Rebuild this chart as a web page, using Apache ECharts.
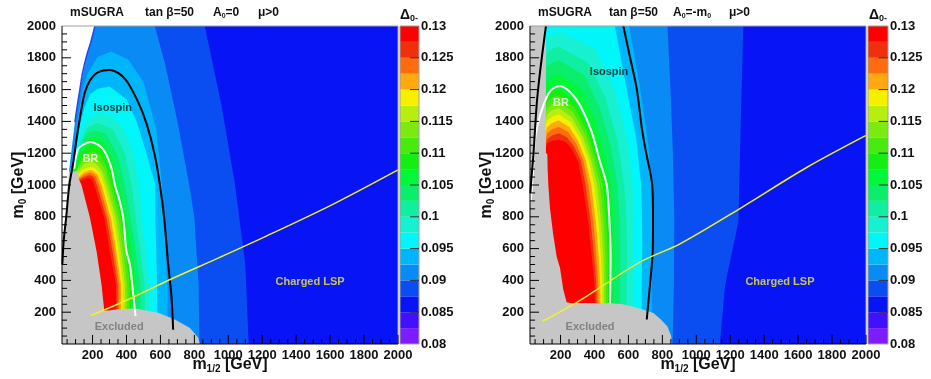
<!DOCTYPE html>
<html><head><meta charset="utf-8">
<script src="https://cdn.jsdelivr.net/npm/echarts@6/dist/echarts.min.js"></script>
<style>html,body{margin:0;padding:0;background:#fff}#c{width:931px;height:379px}</style>
</head><body><div id="c"></div>
<script>
// ---------------- data ----------------
const XMIN = 20, XMAX = 2000, YMIN = 0, YMAX = 2000;
const xTicks = [200,400,600,800,1000,1200,1400,1600,1800,2000];
const xMinor = [50,100,150,250,300,350,450,500,550,650,700,750,850,900,950,1050,1100,1150,1250,1300,1350,1450,1500,1550,1650,1700,1750,1850,1900,1950];
const yTicks = [200,400,600,800,1000,1200,1400,1600,1800];
const yMinor = [50,100,150,250,300,350,450,500,550,650,700,750,850,900,950,1050,1100,1150,1250,1300,1350,1450,1500,1550,1650,1700,1750,1850,1900,1950];
const cbTicks = [0.085,0.09,0.095,0.1,0.105,0.11,0.115,0.12,0.125];
const bandEdges = [0.08,0.0825,0.085,0.0875,0.09,0.0925,0.095,0.0975,0.1,0.1025,0.105,0.1075,0.11,0.1125,0.115,0.1175,0.12,0.1225,0.125,0.1275,0.13];
const palette = ['#7d1cff','#4010ff','#0614f6','#0a4ef2','#0a8af5','#00b6fa','#00f6f8','#18f0d2','#10eea2','#0aee6c','#00f838','#14ee12','#48ea10','#7cea10','#b6ee10','#f6f000','#ffa810','#ff6c10','#f0300c','#ff0000'];
const contourLevels = [0.0875,0.09,0.0925,0.095,0.0975,0.1,0.1025,0.105,0.1075,0.11,0.1125,0.115,0.1175,0.12,0.1225,0.125,0.1275];

// Left panel (A0 = 0): boundary of region with Delta >= level, [m1/2, m0]
const contoursA0 = [
 [[1120,0],[1100,500],[1040,1000],[960,1500],[861,2000],[20,2000],[20,0]],
 [[830,0],[825,373],[800,792],[770,1000],[700,1400],[630,1750],[567,2000],[20,2000],[20,0]],
 [[645,0],[640,373],[630,600],[620,792],[610,1000],[575,1350],[500,1650],[410,1790],[310,1840],[230,1805],[170,1700],[140,1600],[110,1400],[80,1150],[20,900],[20,0]],
 [[585,0],[580,373],[575,600],[570,792],[570,1000],[520,1190],[460,1400],[400,1540],[300,1620],[230,1605],[185,1570],[150,1480],[120,1350],[90,1150],[20,900],[20,0]],
 [[535,0],[532,373],[510,600],[490,792],[475,1000],[440,1200],[380,1360],[300,1440],[240,1455],[180,1420],[140,1340],[105,1200],[20,900],[20,0]],
 [[510,0],[507,373],[480,600],[455,792],[430,1000],[390,1200],[320,1350],[230,1390],[170,1360],[130,1270],[100,1150],[20,900],[20,0]],
 [[482,0],[481,373],[452,600],[425,792],[390,1000],[350,1180],[280,1320],[215,1345],[165,1320],[125,1230],[95,1130],[20,900],[20,0]],
 [[458,0],[457,373],[428,600],[400,792],[355,1000],[320,1160],[260,1280],[205,1302],[160,1280],[120,1200],[95,1100],[20,900],[20,0]],
 [[435,0],[434,373],[407,600],[380,792],[326,1000],[300,1130],[250,1230],[198,1255],[150,1230],[118,1160],[95,1100],[20,900],[20,0]],
 [[420,0],[419,373],[393,600],[367,792],[312,1000],[285,1110],[240,1195],[195,1210],[150,1190],[118,1130],[20,900],[20,0]],
 [[405,0],[405,373],[379,600],[352,792],[298,1000],[270,1100],[230,1165],[192,1178],[150,1160],[118,1110],[20,900],[20,0]],
 [[392,0],[392,373],[365,600],[337,792],[283,1000],[255,1090],[220,1135],[190,1146],[150,1130],[118,1090],[20,900],[20,0]],
 [[380,0],[380,373],[351,600],[322,792],[268,1000],[240,1080],[210,1108],[187,1115],[150,1100],[118,1070],[20,900],[20,0]],
 [[368,0],[368,373],[338,600],[308,792],[254,1000],[230,1065],[205,1088],[185,1094],[150,1080],[118,1050],[20,900],[20,0]],
 [[358,0],[358,373],[327,600],[295,792],[240,1000],[220,1055],[200,1072],[182,1078],[150,1065],[118,1040],[20,900],[20,0]],
 [[348,0],[348,373],[315,600],[282,792],[225,1000],[210,1045],[195,1058],[180,1061],[150,1052],[118,1030],[20,900],[20,0]],
 [[338,0],[338,373],[302,582],[269,792],[210,1000],[200,1030],[185,1042],[170,1044],[150,1038],[118,1020],[20,900],[20,0]]
];
const excludedA0 = [[20,0],[832,0],[823,39],[774,101],[685,154],[587,196],[450,223],[350,218],[293,210],[269,210],[253,373],[224,582],[185,792],[135,1000],[118,1040],[116,1085],[20,1085]];
const blankA0 = [[20,2000],[214,2000],[165,1814],[126,1605],[96,1396],[73,1189],[61,1082],[55,1000],[45,850],[30,700],[20,600]];
const edgeA0 = [[214,2000],[190,1900],[165,1814],[140,1700],[126,1605],[110,1500],[96,1396]];
const brA0 = [[453,175],[440,311],[420,500],[400,582],[381,792],[360,900],[332,1000],[312,1103],[273,1208],[230,1255],[185,1270],[140,1250],[116,1228],[100,1170],[92,1103]];
const isoA0 = [[675,90],[665,300],[646,499],[622,792],[597,1000],[567,1187],[520,1380],[469,1521],[391,1668],[303,1724],[234,1710],[185,1658],[155,1584],[135,1480],[106,1291],[87,1145],[63,999],[45,800],[30,650],[22,499]];
const lspA0 = [[191,179],[400,275],[677,415],[950,545],[1227,680],[1619,880],[2000,1095]];

// Right panel (A0 = -m0)
const contoursAm = [
 [[1139,0],[1170,373],[1248,769],[1262,1400],[1277,2000],[20,2000],[20,0]],
 [[860,0],[868,373],[870,800],[862,1200],[848,1600],[830,2000],[20,2000],[20,0]],
 [[737,0],[737,373],[745,650],[745,800],[738,1000],[712,1300],[670,1600],[605,2000],[20,2000],[20,0]],
 [[678,0],[678,373],[682,600],[680,800],[675,1000],[645,1300],[590,1600],[520,2000],[20,2000],[20,0]],
 [[629,0],[629,373],[632,551],[632,760],[625,1000],[590,1300],[520,1600],[400,1860],[200,1960],[150,1945],[122,1920],[20,1560],[20,0]],
 [[590,0],[590,373],[592,551],[590,760],[575,1000],[535,1280],[465,1550],[360,1770],[190,1870],[150,1855],[122,1830],[20,1470],[20,0]],
 [[550,0],[550,373],[552,551],[550,760],[535,1000],[495,1250],[430,1490],[340,1690],[190,1785],[150,1770],[122,1745],[20,1385],[20,0]],
 [[515,0],[515,373],[518,551],[515,760],[500,1000],[458,1200],[400,1420],[315,1610],[190,1700],[150,1685],[122,1660],[20,1300],[20,0]],
 [[490,0],[490,373],[492,551],[485,760],[466,1000],[422,1175],[370,1350],[288,1520],[190,1605],[150,1590],[122,1565],[20,1205],[20,0]],
 [[479,0],[479,373],[479,551],[470,760],[449,1000],[407,1171],[357,1335],[281,1489],[190,1565],[150,1550],[122,1525],[20,1165],[20,0]],
 [[469,0],[467,373],[465,551],[455,760],[432,1000],[393,1168],[344,1320],[274,1458],[190,1525],[150,1510],[122,1485],[20,1125],[20,0]],
 [[458,0],[456,373],[452,551],[440,760],[415,1000],[378,1164],[331,1304],[266,1426],[190,1485],[150,1470],[122,1445],[20,1085],[20,0]],
 [[447,0],[445,373],[438,551],[424,760],[398,1000],[364,1160],[318,1289],[259,1395],[190,1445],[150,1430],[122,1405],[20,1045],[20,0]],
 [[437,0],[434,373],[425,551],[409,760],[381,1000],[349,1156],[305,1274],[252,1364],[190,1405],[150,1390],[122,1365],[20,1005],[20,0]],
 [[426,0],[422,373],[411,551],[394,760],[364,1000],[334,1153],[292,1259],[245,1333],[190,1365],[150,1350],[122,1325],[20,965],[20,0]],
 [[416,0],[411,373],[398,551],[379,760],[347,1000],[320,1149],[279,1243],[237,1301],[190,1325],[150,1312],[122,1290],[20,925],[20,0]],
 [[405,0],[400,373],[384,551],[364,760],[330,1000],[305,1145],[266,1228],[230,1270],[190,1285],[150,1278],[122,1262],[20,900],[20,0]]
];
const excludedAm = [[20,0],[855,0],[852,50],[830,110],[790,155],[747,195],[690,215],[630,235],[560,252],[491,257],[256,258],[236,262],[216,342],[197,478],[177,551],[157,687],[138,850],[128,1000],[124,1100],[122,1197],[114,1200],[114,2000],[20,2000]];
const brAm = [[491,255],[495,551],[487,792],[472,1000],[433,1145],[384,1333],[315,1501],[260,1580],[197,1622],[160,1610],[128,1574],[79,1438],[50,1291],[36,1062],[25,900]];
const isoAmR = [[708,154],[727,373],[743,582],[745,792],[740,1000],[705,1200],[680,1350],[649,1605],[610,1800],[570,2000]];
const isoAmL = [[114,2000],[79,1710],[59,1501],[40,1187],[30,1062],[22,950]];
const lspAm = [[95,143],[300,265],[668,515],[904,630],[1257,852],[1650,1110],[2000,1312]];

const labelsA0 = [{name:'Isospin', value:[319,1484], c:'#111'},{name:'BR', value:[187,1164], c:'#fff'},{name:'Excluded', value:[357,108], c:'#707070'},{name:'Charged LSP', value:[1482,392], c:'#f4f030'}];
const labelsAm = [{name:'Isospin', value:[486,1710], c:'#111'},{name:'BR', value:[203,1515], c:'#fff'},{name:'Excluded', value:[374,108], c:'#707070'},{name:'Charged LSP', value:[1493,392], c:'#f4f030'}];

// ---------------- chart ----------------
const FONT = "'Liberation Sans', Arial, Helvetica, sans-serif";
// tick lengths expressed in axis units (style)
const TICK_Y_MAJ = 57, TICK_Y_MIN = 31, TICK_X_MAJ = 53, TICK_X_MIN = 30, CB_TICK = 0.47;
const lvlColor = l => palette[Math.round((l - bandEdges[0]) / 0.0025)];

function polySeries(xi, yi, polys, colors, z) {
  return {type:'custom', xAxisIndex:xi, yAxisIndex:yi, z:z, silent:true, clip:true,
    data: polys.map((p,i) => [p[0][0], p[0][1], i]),
    encode:{x:0, y:1},
    renderItem:(params, api) => ({type:'polygon',
      shape:{points: polys[params.dataIndex].map(pt => api.coord(pt))},
      style:{fill: colors[params.dataIndex]}})};
}
function lineSeries(xi, yi, data, color, width, z) {
  return {type:'line', xAxisIndex:xi, yAxisIndex:yi, data:data, z:z, silent:true, symbol:'none',
    smooth:0.3, lineStyle:{color:color, width:width}, clip:true};
}
function labelSeries(xi, yi, items) {
  return {type:'scatter', xAxisIndex:xi, yAxisIndex:yi, z:20, silent:true, symbolSize:1,
    itemStyle:{color:'rgba(0,0,0,0)'},
    data: items.map(d => ({name:d.name, value:d.value, label:{show:true, color:d.c}})),
    label:{show:true, position:'inside', formatter:'{b}', fontFamily:FONT, fontWeight:'bold', fontSize:11}};
}
// straight decoration segment (frame / tick) as a plain line series on an upper layer
function seg(xi, yi, pts, color) {
  return {type:'line', xAxisIndex:xi, yAxisIndex:yi, data:pts, symbol:'none', silent:true, clip:false,
    zlevel:1, z:30, smooth:false, lineStyle:{color:color, width:1}};
}
function frameAndTicks(xi, yi) {
  const out = [
    seg(xi, yi, [[XMIN, YMAX], [XMAX, YMAX], [XMAX, YMIN]], '#a0a0a0'),
    seg(xi, yi, [[XMIN, YMAX], [XMIN, YMIN], [XMAX, YMIN]], '#000000')
  ];
  xTicks.forEach(v => out.push(seg(xi, yi, [[v, YMIN], [v, YMIN + TICK_Y_MAJ]], '#000000')));
  xMinor.forEach(v => out.push(seg(xi, yi, [[v, YMIN], [v, YMIN + TICK_Y_MIN]], '#000000')));
  yTicks.forEach(v => out.push(seg(xi, yi, [[XMIN, v], [XMIN + TICK_X_MAJ, v]], '#000000')));
  yMinor.forEach(v => out.push(seg(xi, yi, [[XMIN, v], [XMIN + TICK_X_MIN, v]], '#000000')));
  return out;
}
function cbarSeries(xi, yi) {
  const bands = palette.map((c,i) => [0.5, (bandEdges[i]+bandEdges[i+1])/2, i]);
  return {type:'custom', xAxisIndex:xi, yAxisIndex:yi, silent:true, z:5, data:bands, encode:{x:0,y:1},
    renderItem:(params, api) => {
      const i = params.dataIndex;
      const p0 = api.coord([0, bandEdges[i]]), p1 = api.coord([1, bandEdges[i+1]]);
      return {type:'rect', shape:{x:p0[0], y:p1[1], width:p1[0]-p0[0], height:p0[1]-p1[1]}, style:{fill:palette[i]}};
    }};
}
function cbarDecor(xi, yi) {
  const out = [seg(xi, yi, [[0, 0.13], [1, 0.13], [1, 0.08], [0, 0.08], [0, 0.13]], '#a0a0a0')];
  cbTicks.forEach(v => out.push(seg(xi, yi, [[1, v], [1 - CB_TICK, v]], '#333333')));
  return out;
}
const lab = {fontFamily:FONT, fontWeight:'bold', fontSize:13, color:'#111'};
const plain = v => String(v);
function mainX(gi) {
  return {type:'value', gridIndex:gi, min:XMIN, max:XMAX, position:'bottom',
    name:'m{s|1/2} [GeV]', nameLocation:'middle', nameGap:12, nameMoveOverlap:false,
    nameTextStyle:{fontFamily:FONT, fontWeight:'bold', fontSize:16, color:'#111', verticalAlign:'top',
      rich:{s:{fontFamily:FONT, fontWeight:'bold', fontSize:10, color:'#111', padding:[8,0,0,0]}}},
    axisLine:{show:false, onZero:false}, axisTick:{show:false},
    axisLabel:Object.assign({show:true, customValues:xTicks, margin:5, formatter:plain}, lab),
    splitLine:{show:false}};
}
function cbX(gi) { return {type:'value', gridIndex:gi, min:0, max:1, show:false}; }
function mainY(gi) {
  return {type:'value', gridIndex:gi, min:YMIN, max:YMAX, interval:200, position:'left',
    name:'m{s|0} [GeV]', nameLocation:'middle', nameGap:34, nameRotate:90, nameMoveOverlap:false,
    nameTextStyle:{fontFamily:FONT, fontWeight:'bold', fontSize:16, color:'#111',
      rich:{s:{fontFamily:FONT, fontWeight:'bold', fontSize:10, color:'#111', padding:[8,0,0,0]}}},
    axisLine:{show:false, onZero:false}, axisTick:{show:false},
    axisLabel:Object.assign({show:true, margin:6, showMinLabel:false, formatter:plain}, lab),
    splitLine:{show:false}};
}
function cbY(gi) {
  return {type:'value', gridIndex:gi, min:0.08, max:0.13, interval:0.005, position:'right',
    axisLine:{show:false}, axisTick:{show:false},
    axisLabel:Object.assign({margin:2, formatter:v => String(+(+v).toFixed(4))}, lab),
    splitLine:{show:false}};
}
function txt(x, y, text, size, sub) {
  return {type:'text', x:x, y:y, silent:true, style:{text:text, fontFamily:FONT, fontWeight:'bold', fontSize:size,
    fill:'#111', verticalAlign:'middle', align:'left',
    rich:{s:{fontFamily:FONT, fontWeight:'bold', fontSize:sub, fill:'#111', padding:[Math.round(sub*0.9),0,0,0]}}}};
}

const chart = echarts.init(document.getElementById('c'));
const cols = contourLevels.map(lvlColor);
chart.setOption({
  animation:false,
  backgroundColor:'#ffffff',
  grid:[
    {left:62, top:26, width:336, height:318, show:true, backgroundColor:palette[2], borderWidth:0, outerBoundsMode:'none'},
    {left:400, top:26, width:19, height:318, show:false, outerBoundsMode:'none'},
    {left:530, top:26, width:336, height:318, show:true, backgroundColor:palette[2], borderWidth:0, outerBoundsMode:'none'},
    {left:868, top:26, width:20, height:318, show:false, outerBoundsMode:'none'}
  ],
  xAxis:[mainX(0), cbX(1), mainX(2), cbX(3)],
  yAxis:[mainY(0), cbY(1), mainY(2), cbY(3)],
  series:[
    polySeries(0,0,contoursA0,cols,2),
    polySeries(0,0,[excludedA0, blankA0],['#c6c6c6','#ffffff'],3),
    lineSeries(0,0,edgeA0,'#2a46e6',1.5,4),
    lineSeries(0,0,brA0,'#ffffff',2,5),
    lineSeries(0,0,isoA0,'#000000',2,5),
    lineSeries(0,0,lspA0,'#f2f030',1.5,5),
    labelSeries(0,0,labelsA0),
    cbarSeries(1,1),
    polySeries(2,2,contoursAm,cols,2),
    polySeries(2,2,[excludedAm],['#c6c6c6'],3),
    lineSeries(2,2,brAm,'#ffffff',2,5),
    lineSeries(2,2,isoAmR,'#000000',2,5),
    lineSeries(2,2,isoAmL,'#000000',2,5),
    lineSeries(2,2,lspAm,'#f2f030',1.5,5),
    labelSeries(2,2,labelsAm),
    cbarSeries(3,3)
  ].concat(frameAndTicks(0,0), frameAndTicks(2,2), cbarDecor(1,1), cbarDecor(3,3)),
  graphic:[
    txt(70,13,'mSUGRA',12,7), txt(145,13,'tan β=50',12,7), txt(213,13,'A{s|0}=0',12,7), txt(258,13,'μ>0',12,7),
    txt(538,13,'mSUGRA',12,7), txt(609,13,'tan β=50',12,7), txt(673,13,'A{s|0}=-m{s|0}',12,7), txt(729,13,'μ>0',12,7),
    txt(400,15,'Δ{s|0-}',14,9), txt(869,15,'Δ{s|0-}',14,9)
  ]
});
</script></body></html>
